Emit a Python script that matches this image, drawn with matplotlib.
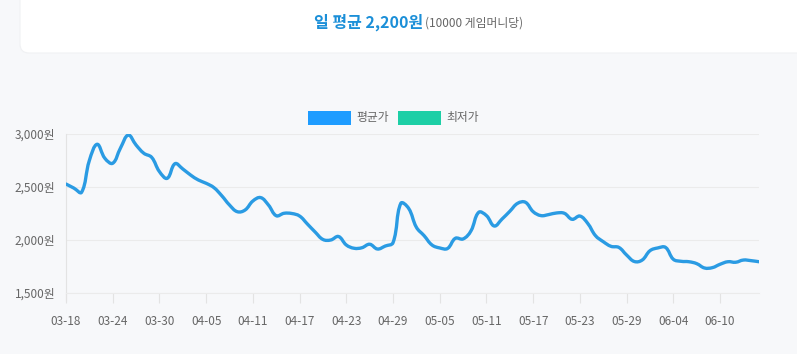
import numpy as np
import matplotlib
matplotlib.use("Agg")
import matplotlib.pyplot as plt
from matplotlib.patches import FancyBboxPatch, Rectangle, PathPatch
from matplotlib.path import Path
from matplotlib.transforms import IdentityTransform

plt.rcParams["font.family"] = ["Noto Sans CJK KR", "DejaVu Sans"]

# 평균가 (10000 게임머니당), 03-18 ~ 06-15 daily
avg_price = [
    2528, 2490, 2450, 2750, 2903, 2770, 2724, 2868, 2990, 2896,
    2818, 2780, 2645, 2582, 2720, 2670, 2613, 2566, 2535, 2494,
    2418, 2330, 2267, 2283, 2368, 2400, 2330, 2229, 2252, 2250,
    2226, 2151, 2075, 2005, 2000, 2033, 1953, 1922, 1927, 1960,
    1915, 1943, 1975, 2346, 2299, 2120, 2040, 1953, 1925, 1920,
    2016, 2010, 2085, 2261, 2230, 2132, 2198, 2271, 2346, 2356,
    2267, 2230, 2240, 2255, 2252, 2195, 2226, 2157, 2041, 1984,
    1940, 1930, 1858, 1797, 1811, 1899, 1925, 1930, 1818, 1799,
    1795, 1777, 1736, 1739, 1771, 1795, 1790, 1811, 1805, 1795,
]
x_tick_labels = ["03-18", "03-24", "03-30", "04-05", "04-11", "04-17", "04-23", "04-29",
                 "05-05", "05-11", "05-17", "05-23", "05-29", "06-04", "06-10"]
y_ticks = [1500, 2000, 2500, 3000]
legend_labels = ["평균가", "최저가"]
legend_colors = ["#1e9cff", "#1dcfa6"]
line_color = "#2a9be3"
title_main = "일 평균 2,200원"
title_sub = "(10000 게임머니당)"

W, H = 797, 354
fig = plt.figure(figsize=(W / 100, H / 100), dpi=100)
fig.patch.set_facecolor("#f7f8fa")

# white card at top
card = FancyBboxPatch((20, H - 53), 820, 90, boxstyle="round,pad=0,rounding_size=9",
                      transform=IdentityTransform(), facecolor="white", edgecolor="#f0f1f3",
                      linewidth=0.8, zorder=0)
fig.patches.append(card)

t1 = fig.text(0, 0, title_main, color="#1b8fd8", fontsize=11.5, fontweight="bold",
              va="center", ha="left")
t2 = fig.text(0, 0, title_sub, color="#666666", fontsize=8.5, va="center", ha="left")
fig.canvas.draw()
r = fig.canvas.get_renderer()
w1 = t1.get_window_extent(r).width
w2 = t2.get_window_extent(r).width
x0 = 418 - (w1 + w2) / 2
yc = 1 - 22 / H
t1.set_position((x0 / W, yc))
t2.set_position(((x0 + w1 + 1) / W, yc - 1 / H))

# axes
ax_left, ax_right = 66, 759
ax_top, ax_bottom = 134, 293
ax = fig.add_axes([ax_left / W, (H - ax_bottom) / H, (ax_right - ax_left) / W,
                   (ax_bottom - ax_top) / H])
ax.set_facecolor("none")

n = len(avg_price)
x = np.arange(n)
y = np.array(avg_price, dtype=float)
ax.set_xlim(0, n - 1)
ax.set_ylim(1500, 3000)

# smooth curve (bezier spline, tension 0.4) through the daily points
sx = (ax_right - ax_left) / (n - 1)
sy = (ax_bottom - ax_top) / 1500
tension = 0.4
verts = [(x[0], y[0])]
codes = [Path.MOVETO]
cps = []
for i in range(n):
    p0 = (x[max(i - 1, 0)], y[max(i - 1, 0)])
    p1 = (x[i], y[i])
    p2 = (x[min(i + 1, n - 1)], y[min(i + 1, n - 1)])
    d01 = np.hypot((p1[0] - p0[0]) * sx, (p1[1] - p0[1]) * sy)
    d12 = np.hypot((p2[0] - p1[0]) * sx, (p2[1] - p1[1]) * sy)
    tot = d01 + d12 if d01 + d12 > 0 else 1
    fa = tension * d01 / tot
    fb = tension * d12 / tot
    cps.append(((p1[0] - fa * (p2[0] - p0[0]), p1[1] - fa * (p2[1] - p0[1])),
                (p1[0] + fb * (p2[0] - p0[0]), p1[1] + fb * (p2[1] - p0[1]))))
for i in range(1, n):
    verts += [cps[i - 1][1], cps[i][0], (x[i], y[i])]
    codes += [Path.CURVE4] * 3
ax.add_patch(PathPatch(Path(verts, codes), facecolor="none", edgecolor=line_color,
                       linewidth=2.4, capstyle="round", joinstyle="round", zorder=3))

ax.set_yticks(y_ticks)
ax.set_yticklabels([f"{v:,}원" for v in y_ticks])
ax.set_xticks(np.arange(0, n, 6)[:len(x_tick_labels)])
ax.set_xticklabels(x_tick_labels)
ax.grid(axis="y", color="#ebebeb", linewidth=0.8)
ax.tick_params(axis="y", length=0, pad=7.5, labelsize=8.5, labelcolor="#666666")
ax.tick_params(axis="x", length=7, width=0.8, color="#e3e3e3", pad=9, labelsize=8.5,
               labelcolor="#666666")
for s in ["top", "right"]:
    ax.spines[s].set_visible(False)
ax.spines["bottom"].set_color("#ebebeb")
ax.spines["bottom"].set_linewidth(0.8)
ax.spines["left"].set_color("#e3e3e3")
ax.spines["left"].set_linewidth(0.8)
ax.spines["left"].set_bounds(1500 - 7 / sy, 3000)

# legend
lx = [308, 398]
for lab, col, xx in zip(legend_labels, legend_colors, lx):
    fig.patches.append(Rectangle((xx / W, 1 - 125 / H), 43 / W, 14 / H, transform=fig.transFigure,
                                 facecolor=col, edgecolor="none"))
    fig.text((xx + 48) / W, 1 - 118 / H, lab, fontsize=8.5, color="#666666", va="center",
             ha="left")

fig.savefig("out.png", dpi=100, facecolor=fig.get_facecolor())
